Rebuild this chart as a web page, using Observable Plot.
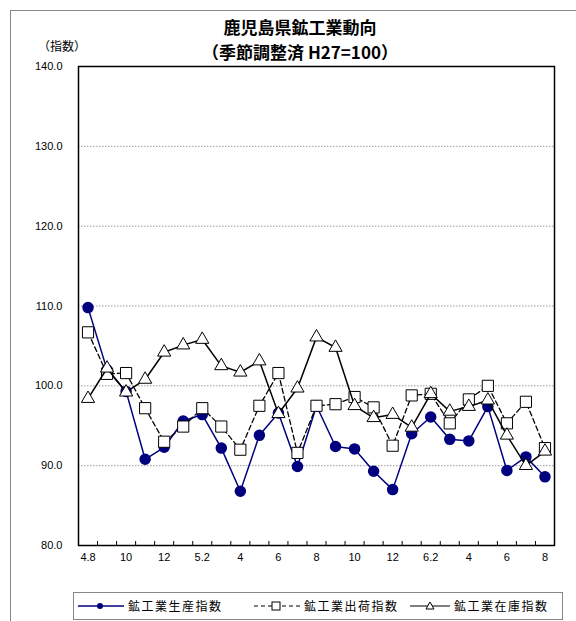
<!DOCTYPE html>
<html><head><meta charset="utf-8">
<script src="https://cdn.jsdelivr.net/npm/d3@7"></script>
<script src="https://cdn.jsdelivr.net/npm/@observablehq/plot@0.6"></script>
<style>
body{margin:0;background:#fff;font-family:"Liberation Sans",Arial,sans-serif;}
#wrap{position:relative;width:576px;height:621px;overflow:hidden;}
#frame{position:absolute;left:10px;top:10px;width:600px;height:640px;border:1px solid #888;box-sizing:border-box;}
.t{position:absolute;font-family:"Noto Sans CJK JP",sans-serif;font-weight:bold;white-space:nowrap;}
#legend{position:absolute;left:73px;top:592px;width:490px;height:28px;border:1px solid #888;box-sizing:border-box;font-family:"Noto Sans CJK JP",sans-serif;font-size:12px;}
#legend .it{position:absolute;top:4px;display:flex;align-items:center;letter-spacing:1.5px;}
#chart{position:absolute;left:0;top:0;}
</style></head><body>
<div id="wrap">
<div id="frame"></div>
<div id="chart"></div>
<div class="t" style="left:0;width:600px;text-align:center;top:14px;font-size:17px;">鹿児島県鉱工業動向</div>
<div class="t" style="left:0;width:600px;text-align:center;top:39px;font-size:17px;">（季節調整済 H27=100）</div>
<div class="t" style="left:38px;top:37px;font-size:12px;font-weight:normal;">（指数）</div>
<div id="legend">
 <div class="it" style="left:4px;"><svg width="46" height="14"><line x1="0" y1="7" x2="46" y2="7" stroke="#00007f" stroke-width="1.5"/><circle cx="22" cy="7" r="3" fill="#00007f"/></svg><span style="margin-left:4px">鉱工業生産指数</span></div>
 <div class="it" style="left:180px;"><svg width="46" height="14"><line x1="0" y1="7" x2="46" y2="7" stroke="#000" stroke-width="1.2" stroke-dasharray="4,3"/><rect x="18" y="3" width="8" height="8" fill="#fff" stroke="#000"/></svg><span style="margin-left:4px">鉱工業出荷指数</span></div>
 <div class="it" style="left:336px;"><svg width="40" height="14"><line x1="0" y1="7" x2="40" y2="7" stroke="#000" stroke-width="1.2"/><path d="M20,3 L24,10 L16,10 Z" fill="#fff" stroke="#000"/></svg><span style="margin-left:4px">鉱工業在庫指数</span></div>
</div>
</div>
<script>
const months = ["4.8","9","10","11","12","5.1","5.2","3","4","5","6","7","8","9","10","11","12","6.1","6.2","3","4","5","6","7","8"];
const production = [109.8,102.0,99.3,90.8,92.3,95.6,96.4,92.2,86.8,93.8,96.6,89.9,97.5,92.4,92.1,89.3,87.0,94.0,96.1,93.3,93.1,97.4,89.4,91.1,88.6];
const shipments  = [106.7,101.5,101.6,97.2,93.0,94.9,97.2,94.9,92.0,97.5,101.6,91.6,97.5,97.7,98.6,97.3,92.5,98.8,99.0,95.3,98.3,100.0,95.3,98.0,92.2];
const inventory  = [98.4,102.2,99.2,100.8,104.2,105.1,105.8,102.5,101.7,103.1,96.5,99.7,106.1,104.8,97.5,96.0,96.4,94.8,99.0,96.8,97.4,98.2,93.8,90.0,91.8];
const yTicks = [80,90,100,110,120,130,140];
const gridLines = [90,100,110,120,130];

const idx = months.map((_, i) => i);
const rows = (vals) => vals.map((v, i) => ({i, v}));
const xLabelIdx = idx.filter(i => i % 2 === 0);
const bounds = d3.range(months.length + 1).map(i => i - 0.5);
const navy = "#00007f";

const plot = Plot.plot({
  width: 576, height: 621,
  marginLeft: 78, marginRight: 22, marginTop: 66, marginBottom: 76,
  style: {fontFamily: "'Liberation Sans', Arial, sans-serif", fontSize: "11px", background: "transparent", overflow: "visible"},
  x: {type: "linear", domain: [-0.5, months.length - 0.5]},
  y: {domain: [80, 140]},
  marks: [
    Plot.ruleY(gridLines, {stroke: "#999", strokeDasharray: "1.5,1.5", strokeWidth: 1}),
    Plot.ruleX(bounds, {x: d => d, y1: 80, y2: 80.5, stroke: "#000", strokeWidth: 1}),
    Plot.axisY(yTicks, {tickSize: 0, tickPadding: 16, tickFormat: d => d.toFixed(1), label: null, fontSize: 11}),
    Plot.axisX(xLabelIdx, {tickSize: 0, tickPadding: 8, tickFormat: i => months[i], label: null, fontSize: 11}),
    Plot.line(rows(production), {x: "i", y: "v", stroke: navy, strokeWidth: 1.5}),
    Plot.dot(rows(production), {x: "i", y: "v", r: 5, fill: navy, stroke: navy}),
    Plot.line(rows(shipments), {x: "i", y: "v", stroke: "#000", strokeWidth: 1.3, strokeDasharray: "5,3"}),
    Plot.dot(rows(shipments), {x: "i", y: "v", symbol: "square", r: 6.3, fill: "#fff", stroke: "#000", strokeWidth: 1}),
    Plot.line(rows(inventory), {x: "i", y: "v", stroke: "#000", strokeWidth: 1.5}),
    Plot.dot(rows(inventory), {x: "i", y: "v", symbol: "triangle", r: 4.9, fill: "#fff", stroke: "#000", strokeWidth: 1}),
    Plot.frame({stroke: "#000", strokeWidth: 1.5})
  ]
});
document.getElementById("chart").appendChild(plot);
</script>
</body></html>
